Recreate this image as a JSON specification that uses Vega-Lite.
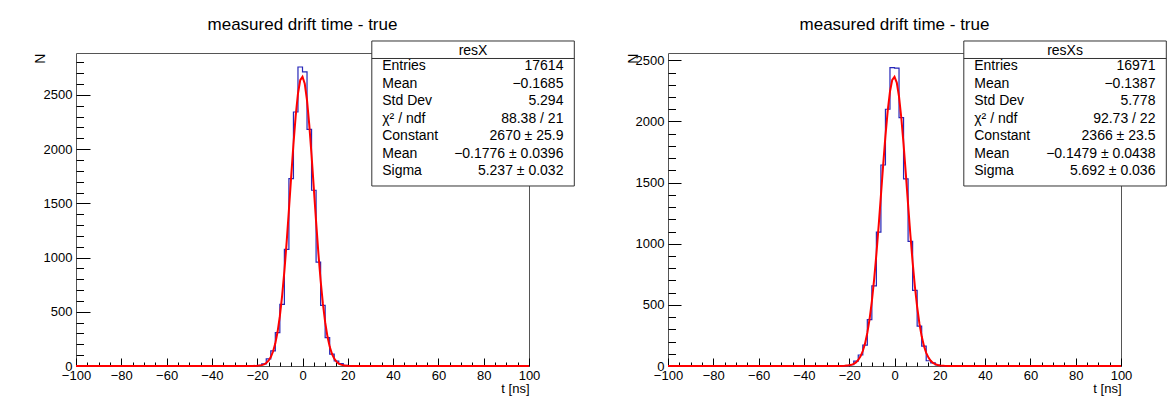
{
  "$schema": "https://vega.github.io/schema/vega-lite/v6.json",
  "background": "white",
  "padding": {"left": 32, "top": 15, "right": 5, "bottom": 5},
  "spacing": 139,
  "bounds": "flush",
  "config": {
    "font": "Liberation Sans",
    "view": {"stroke": "#555", "strokeWidth": 1},
    "axis": {"labelFont": "Liberation Sans", "labelFontSize": 13, "labelColor": "#000", "tickColor": "#000", "tickWidth": 1, "domain": false, "grid": false, "titleFont": "Liberation Sans", "titleFontSize": 13, "titleFontWeight": "normal", "titleColor": "#000", "labelOverlap": false, "labelFlush": false, "format": "d"},
    "title": {"font": "Liberation Sans", "fontSize": 17, "fontWeight": "normal", "color": "#000", "offset": 6, "anchor": "middle", "frame": "group"},
    "text": {"font": "Liberation Sans", "fontSize": 14, "color": "#000"}
  },
  "datasets": {
    "hl": [{"t":-99,"n":0},{"t":-97,"n":0},{"t":-95,"n":0},{"t":-93,"n":0},{"t":-91,"n":0},{"t":-89,"n":0},{"t":-87,"n":0},{"t":-85,"n":0},{"t":-83,"n":0},{"t":-81,"n":0},{"t":-79,"n":0},{"t":-77,"n":0},{"t":-75,"n":0},{"t":-73,"n":0},{"t":-71,"n":0},{"t":-69,"n":0},{"t":-67,"n":0},{"t":-65,"n":0},{"t":-63,"n":0},{"t":-61,"n":0},{"t":-59,"n":0},{"t":-57,"n":0},{"t":-55,"n":0},{"t":-53,"n":0},{"t":-51,"n":0},{"t":-49,"n":0},{"t":-47,"n":0},{"t":-45,"n":0},{"t":-43,"n":0},{"t":-41,"n":0},{"t":-39,"n":0},{"t":-37,"n":0},{"t":-35,"n":0},{"t":-33,"n":0},{"t":-31,"n":0},{"t":-29,"n":0},{"t":-27,"n":0},{"t":-25,"n":0},{"t":-23,"n":1},{"t":-21,"n":3},{"t":-19,"n":5},{"t":-17,"n":20},{"t":-15,"n":65},{"t":-13,"n":140},{"t":-11,"n":307},{"t":-9,"n":569},{"t":-7,"n":1076},{"t":-5,"n":1728},{"t":-3,"n":2343},{"t":-1,"n":2758},{"t":1,"n":2712},{"t":3,"n":2183},{"t":5,"n":1621},{"t":7,"n":959},{"t":9,"n":560},{"t":11,"n":261},{"t":13,"n":110},{"t":15,"n":46},{"t":17,"n":21},{"t":19,"n":6},{"t":21,"n":2},{"t":23,"n":1},{"t":25,"n":0},{"t":27,"n":0},{"t":29,"n":0},{"t":31,"n":0},{"t":33,"n":0},{"t":35,"n":0},{"t":37,"n":0},{"t":39,"n":0},{"t":41,"n":0},{"t":43,"n":0},{"t":45,"n":0},{"t":47,"n":0},{"t":49,"n":0},{"t":51,"n":0},{"t":53,"n":0},{"t":55,"n":0},{"t":57,"n":0},{"t":59,"n":0},{"t":61,"n":0},{"t":63,"n":0},{"t":65,"n":0},{"t":67,"n":0},{"t":69,"n":0},{"t":71,"n":0},{"t":73,"n":0},{"t":75,"n":0},{"t":77,"n":0},{"t":79,"n":0},{"t":81,"n":0},{"t":83,"n":0},{"t":85,"n":0},{"t":87,"n":0},{"t":89,"n":0},{"t":91,"n":0},{"t":93,"n":0},{"t":95,"n":0},{"t":97,"n":0},{"t":99,"n":0}],
    "hr": [{"t":-99,"n":0},{"t":-97,"n":0},{"t":-95,"n":0},{"t":-93,"n":0},{"t":-91,"n":0},{"t":-89,"n":0},{"t":-87,"n":0},{"t":-85,"n":0},{"t":-83,"n":0},{"t":-81,"n":0},{"t":-79,"n":0},{"t":-77,"n":0},{"t":-75,"n":0},{"t":-73,"n":0},{"t":-71,"n":0},{"t":-69,"n":0},{"t":-67,"n":0},{"t":-65,"n":0},{"t":-63,"n":0},{"t":-61,"n":0},{"t":-59,"n":0},{"t":-57,"n":0},{"t":-55,"n":0},{"t":-53,"n":0},{"t":-51,"n":0},{"t":-49,"n":0},{"t":-47,"n":0},{"t":-45,"n":0},{"t":-43,"n":0},{"t":-41,"n":0},{"t":-39,"n":0},{"t":-37,"n":0},{"t":-35,"n":0},{"t":-33,"n":0},{"t":-31,"n":0},{"t":-29,"n":0},{"t":-27,"n":0},{"t":-25,"n":0},{"t":-23,"n":1},{"t":-21,"n":3},{"t":-19,"n":12},{"t":-17,"n":40},{"t":-15,"n":90},{"t":-13,"n":171},{"t":-11,"n":380},{"t":-9,"n":655},{"t":-7,"n":1095},{"t":-5,"n":1644},{"t":-3,"n":2100},{"t":-1,"n":2440},{"t":1,"n":2436},{"t":3,"n":2032},{"t":5,"n":1530},{"t":7,"n":1019},{"t":9,"n":619},{"t":11,"n":326},{"t":13,"n":163},{"t":15,"n":43},{"t":17,"n":25},{"t":19,"n":8},{"t":21,"n":3},{"t":23,"n":1},{"t":25,"n":0},{"t":27,"n":0},{"t":29,"n":0},{"t":31,"n":0},{"t":33,"n":0},{"t":35,"n":0},{"t":37,"n":0},{"t":39,"n":0},{"t":41,"n":0},{"t":43,"n":0},{"t":45,"n":0},{"t":47,"n":0},{"t":49,"n":0},{"t":51,"n":0},{"t":53,"n":0},{"t":55,"n":0},{"t":57,"n":0},{"t":59,"n":0},{"t":61,"n":0},{"t":63,"n":0},{"t":65,"n":0},{"t":67,"n":0},{"t":69,"n":0},{"t":71,"n":0},{"t":73,"n":0},{"t":75,"n":0},{"t":77,"n":0},{"t":79,"n":0},{"t":81,"n":0},{"t":83,"n":0},{"t":85,"n":0},{"t":87,"n":0},{"t":89,"n":0},{"t":91,"n":0},{"t":93,"n":0},{"t":95,"n":0},{"t":97,"n":0},{"t":99,"n":0}],
    "fl": [{"t":-100,"f":0},{"t":-24,"f":0.1},{"t":-22,"f":0.45},{"t":-20,"f":2.1},{"t":-19,"f":4.2},{"t":-18,"f":8.2},{"t":-17,"f":15.4},{"t":-16,"f":27.8},{"t":-15,"f":48.6},{"t":-14,"f":82},{"t":-13,"f":133.3},{"t":-12,"f":208.8},{"t":-11,"f":315.6},{"t":-10,"f":459.8},{"t":-9,"f":645.9},{"t":-8,"f":875},{"t":-7,"f":1142.8},{"t":-6,"f":1439.1},{"t":-5,"f":1747.2},{"t":-4,"f":2045.5},{"t":-3,"f":2309},{"t":-2,"f":2513},{"t":-1,"f":2637.2},{"t":0,"f":2668.5},{"t":1,"f":2603.3},{"t":2,"f":2449},{"t":3,"f":2221.2},{"t":4,"f":1942.4},{"t":5,"f":1637.8},{"t":6,"f":1331.5},{"t":7,"f":1043.7},{"t":8,"f":789},{"t":9,"f":574.9},{"t":10,"f":404},{"t":11,"f":273.7},{"t":12,"f":178.9},{"t":13,"f":112.6},{"t":14,"f":68.4},{"t":15,"f":40.1},{"t":16,"f":22.6},{"t":17,"f":12.3},{"t":18,"f":6.5},{"t":19,"f":3.3},{"t":20,"f":1.6},{"t":22,"f":0.34},{"t":24,"f":0.06},{"t":100,"f":0}],
    "fr": [{"t":-100,"f":0},{"t":-24,"f":0.36},{"t":-22,"f":1.5},{"t":-20,"f":5.4},{"t":-19,"f":9.8},{"t":-18,"f":17.3},{"t":-17,"f":29.5},{"t":-16,"f":49},{"t":-15,"f":78.6},{"t":-14,"f":122.4},{"t":-13,"f":185},{"t":-12,"f":270.7},{"t":-11,"f":384.2},{"t":-10,"f":529},{"t":-9,"f":706},{"t":-8,"f":913.7},{"t":-7,"f":1146.3},{"t":-6,"f":1394.7},{"t":-5,"f":1645.3},{"t":-4,"f":1881.7},{"t":-3,"f":2086.8},{"t":-2,"f":2243.9},{"t":-1,"f":2339.7},{"t":0,"f":2365.2},{"t":1,"f":2318.4},{"t":2,"f":2203.5},{"t":3,"f":2030.5},{"t":4,"f":1814.2},{"t":5,"f":1571.7},{"t":6,"f":1320.2},{"t":7,"f":1075.4},{"t":8,"f":849.4},{"t":9,"f":650.4},{"t":10,"f":482.9},{"t":11,"f":347.6},{"t":12,"f":242.6},{"t":13,"f":164.2},{"t":14,"f":107.8},{"t":15,"f":68.6},{"t":16,"f":42.3},{"t":17,"f":25.3},{"t":18,"f":14.7},{"t":19,"f":8.3},{"t":20,"f":4.5},{"t":22,"f":1.2},{"t":24,"f":0.3},{"t":100,"f":0}],
    "sl": [{"i":1,"k":"Entries","v":"17614"},{"i":2,"k":"Mean","v":"−0.1685"},{"i":3,"k":"Std Dev","v":"5.294"},{"i":4,"k":"χ² / ndf","v":"88.38 / 21"},{"i":5,"k":"Constant","v":"2670 ± 25.9"},{"i":6,"k":"Mean","v":"−0.1776 ± 0.0396"},{"i":7,"k":"Sigma","v":"5.237 ± 0.032"}],
    "sr": [{"i":1,"k":"Entries","v":"16971"},{"i":2,"k":"Mean","v":"−0.1387"},{"i":3,"k":"Std Dev","v":"5.778"},{"i":4,"k":"χ² / ndf","v":"92.73 / 22"},{"i":5,"k":"Constant","v":"2366 ± 23.5"},{"i":6,"k":"Mean","v":"−0.1479 ± 0.0438"},{"i":7,"k":"Sigma","v":"5.692 ± 0.036"}]
  },
  "hconcat": [
    {
      "width": 453, "height": 313,
      "title": {"text": "measured drift time - true"},
      "resolve": {"scale": {"y": "independent"}, "axis": {"x": "independent", "y": "independent"}},
      "layer": [
        {"data": {"name": "hl"}, "mark": {"type": "line", "opacity": 0},
         "encoding": {
           "x": {"field": "t", "type": "quantitative", "scale": {"domain": [-100, 100], "nice": false, "zero": false}, "axis": {"orient": "bottom", "values": [-95,-90,-85,-75,-70,-65,-55,-50,-45,-35,-30,-25,-15,-10,-5,5,10,15,25,30,35,45,50,55,65,70,75,85,90,95], "labels": false, "tickSize": -4, "title": null}},
           "y": {"field": "n", "type": "quantitative", "scale": {"domain": [0, 2887], "nice": false}, "axis": {"orient": "left", "values": [100,200,300,400,600,700,800,900,1100,1200,1300,1400,1600,1700,1800,1900,2100,2200,2300,2400,2600,2700,2800], "labels": false, "tickSize": -7.5, "title": null}}
         }},
        {"data": {"name": "hl"}, "mark": {"type": "line", "interpolate": "step", "color": "#2626b8", "strokeWidth": 1.2},
         "encoding": {
           "x": {"field": "t", "type": "quantitative", "scale": {"domain": [-100, 100], "nice": false, "zero": false}, "axis": {"orient": "bottom", "values": [-100,-80,-60,-40,-20,0,20,40,60,80,100], "tickSize": -8, "labelPadding": 11, "title": "t [ns]", "titleX": 453, "titleY": 22, "titleAlign": "right", "titleBaseline": "middle", "titleAngle": 0}},
           "y": {"field": "n", "type": "quantitative", "scale": {"domain": [0, 2887], "nice": false}, "axis": {"orient": "left", "values": [0,500,1000,1500,2000,2500], "tickSize": -14, "labelPadding": 18, "title": "N", "titleAngle": 270, "titleAlign": "right", "titleBaseline": "bottom", "titleX": -29, "titleY": 0, "titleFontSize": 14}}
         }},
        {"data": {"name": "fl"}, "mark": {"type": "line", "color": "#ff0000", "strokeWidth": 2},
         "encoding": {
           "x": {"field": "t", "type": "quantitative", "scale": {"domain": [-100, 100], "nice": false, "zero": false}, "axis": null},
           "y": {"field": "f", "type": "quantitative", "scale": {"domain": [0, 2887], "nice": false}, "axis": null}
         }},
        {"data": {"values": [{"name": "resX"}]}, "mark": {"type": "rect", "fill": "white", "stroke": "#333", "strokeWidth": 1},
         "encoding": {
           "x": {"datum": 30.6, "type": "quantitative", "scale": {"domain": [-100, 100], "nice": false, "zero": false}, "axis": null},
           "x2": {"datum": 120},
           "y": {"datum": -0.4286, "type": "quantitative", "scale": {"domain": [1, 7], "range": [13, 118], "nice": false, "zero": false}, "axis": null},
           "y2": {"datum": 7.857}
         }},
        {"data": {"values": [{"name": "resX"}]}, "mark": {"type": "rule", "color": "#333", "strokeWidth": 1},
         "encoding": {
           "x": {"datum": 30.6, "type": "quantitative", "scale": {"domain": [-100, 100], "nice": false, "zero": false}, "axis": null},
           "x2": {"datum": 120},
           "y": {"datum": 0.5714, "type": "quantitative", "scale": {"domain": [1, 7], "range": [13, 118], "nice": false, "zero": false}, "axis": null}
         }},
        {"data": {"values": [{"name": "resX"}]}, "mark": {"type": "text", "align": "center", "baseline": "middle"},
         "encoding": {
           "x": {"datum": 75.3, "type": "quantitative", "scale": {"domain": [-100, 100], "nice": false, "zero": false}, "axis": null},
           "y": {"datum": 0.1429, "type": "quantitative", "scale": {"domain": [1, 7], "range": [13, 118], "nice": false, "zero": false}, "axis": null},
           "text": {"field": "name"}
         }},
        {"data": {"name": "sl"}, "mark": {"type": "text", "align": "left", "baseline": "middle"},
         "encoding": {
           "x": {"datum": 35.2, "type": "quantitative", "scale": {"domain": [-100, 100], "nice": false, "zero": false}, "axis": null},
           "y": {"field": "i", "type": "quantitative", "scale": {"domain": [1, 7], "range": [13, 118], "nice": false, "zero": false}, "axis": null},
           "text": {"field": "k"}
         }},
        {"data": {"name": "sl"}, "mark": {"type": "text", "align": "right", "baseline": "middle"},
         "encoding": {
           "x": {"datum": 115.2, "type": "quantitative", "scale": {"domain": [-100, 100], "nice": false, "zero": false}, "axis": null},
           "y": {"field": "i", "type": "quantitative", "scale": {"domain": [1, 7], "range": [13, 118], "nice": false, "zero": false}, "axis": null},
           "text": {"field": "v"}
         }}
      ]
    },
    {
      "width": 453, "height": 313,
      "title": {"text": "measured drift time - true"},
      "resolve": {"scale": {"y": "independent"}, "axis": {"x": "independent", "y": "independent"}},
      "layer": [
        {"data": {"name": "hr"}, "mark": {"type": "line", "opacity": 0},
         "encoding": {
           "x": {"field": "t", "type": "quantitative", "scale": {"domain": [-100, 100], "nice": false, "zero": false}, "axis": {"orient": "bottom", "values": [-95,-90,-85,-75,-70,-65,-55,-50,-45,-35,-30,-25,-15,-10,-5,5,10,15,25,30,35,45,50,55,65,70,75,85,90,95], "labels": false, "tickSize": -4, "title": null}},
           "y": {"field": "n", "type": "quantitative", "scale": {"domain": [0, 2560], "nice": false}, "axis": {"orient": "left", "values": [100,200,300,400,600,700,800,900,1100,1200,1300,1400,1600,1700,1800,1900,2100,2200,2300,2400], "labels": false, "tickSize": -7.5, "title": null}}
         }},
        {"data": {"name": "hr"}, "mark": {"type": "line", "interpolate": "step", "color": "#2626b8", "strokeWidth": 1.2},
         "encoding": {
           "x": {"field": "t", "type": "quantitative", "scale": {"domain": [-100, 100], "nice": false, "zero": false}, "axis": {"orient": "bottom", "values": [-100,-80,-60,-40,-20,0,20,40,60,80,100], "tickSize": -8, "labelPadding": 11, "title": "t [ns]", "titleX": 453, "titleY": 22, "titleAlign": "right", "titleBaseline": "middle", "titleAngle": 0}},
           "y": {"field": "n", "type": "quantitative", "scale": {"domain": [0, 2560], "nice": false}, "axis": {"orient": "left", "values": [0,500,1000,1500,2000,2500], "tickSize": -13, "labelPadding": 17, "title": "N", "titleAngle": 270, "titleAlign": "right", "titleBaseline": "bottom", "titleX": -28, "titleY": 0, "titleFontSize": 14}}
         }},
        {"data": {"name": "fr"}, "mark": {"type": "line", "color": "#ff0000", "strokeWidth": 2},
         "encoding": {
           "x": {"field": "t", "type": "quantitative", "scale": {"domain": [-100, 100], "nice": false, "zero": false}, "axis": null},
           "y": {"field": "f", "type": "quantitative", "scale": {"domain": [0, 2560], "nice": false}, "axis": null}
         }},
        {"data": {"values": [{"name": "resXs"}]}, "mark": {"type": "rect", "fill": "white", "stroke": "#333", "strokeWidth": 1},
         "encoding": {
           "x": {"datum": 30.6, "type": "quantitative", "scale": {"domain": [-100, 100], "nice": false, "zero": false}, "axis": null},
           "x2": {"datum": 120},
           "y": {"datum": -0.4286, "type": "quantitative", "scale": {"domain": [1, 7], "range": [13, 118], "nice": false, "zero": false}, "axis": null},
           "y2": {"datum": 7.857}
         }},
        {"data": {"values": [{"name": "resXs"}]}, "mark": {"type": "rule", "color": "#333", "strokeWidth": 1},
         "encoding": {
           "x": {"datum": 30.6, "type": "quantitative", "scale": {"domain": [-100, 100], "nice": false, "zero": false}, "axis": null},
           "x2": {"datum": 120},
           "y": {"datum": 0.5714, "type": "quantitative", "scale": {"domain": [1, 7], "range": [13, 118], "nice": false, "zero": false}, "axis": null}
         }},
        {"data": {"values": [{"name": "resXs"}]}, "mark": {"type": "text", "align": "center", "baseline": "middle"},
         "encoding": {
           "x": {"datum": 75.3, "type": "quantitative", "scale": {"domain": [-100, 100], "nice": false, "zero": false}, "axis": null},
           "y": {"datum": 0.1429, "type": "quantitative", "scale": {"domain": [1, 7], "range": [13, 118], "nice": false, "zero": false}, "axis": null},
           "text": {"field": "name"}
         }},
        {"data": {"name": "sr"}, "mark": {"type": "text", "align": "left", "baseline": "middle"},
         "encoding": {
           "x": {"datum": 35.2, "type": "quantitative", "scale": {"domain": [-100, 100], "nice": false, "zero": false}, "axis": null},
           "y": {"field": "i", "type": "quantitative", "scale": {"domain": [1, 7], "range": [13, 118], "nice": false, "zero": false}, "axis": null},
           "text": {"field": "k"}
         }},
        {"data": {"name": "sr"}, "mark": {"type": "text", "align": "right", "baseline": "middle"},
         "encoding": {
           "x": {"datum": 115.2, "type": "quantitative", "scale": {"domain": [-100, 100], "nice": false, "zero": false}, "axis": null},
           "y": {"field": "i", "type": "quantitative", "scale": {"domain": [1, 7], "range": [13, 118], "nice": false, "zero": false}, "axis": null},
           "text": {"field": "v"}
         }}
      ]
    }
  ]
}
